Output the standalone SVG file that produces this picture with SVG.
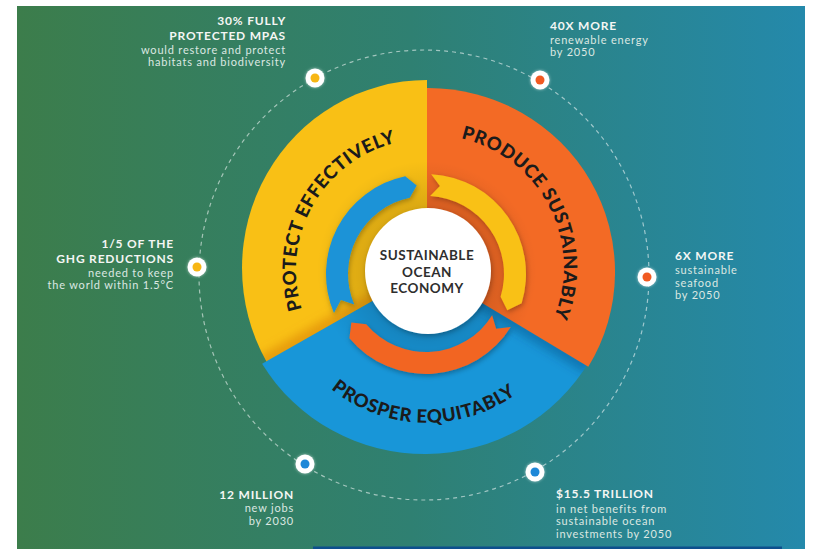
<svg xmlns="http://www.w3.org/2000/svg" width="815" height="549" viewBox="0 0 815 549">
<defs>
<style>
.hd{font-family:Lato,"Liberation Sans",sans-serif;font-weight:700;font-size:12px;fill:#f4f6f4;letter-spacing:0.8px}
.tx{font-family:Lato,"Liberation Sans",sans-serif;font-size:11px;fill:#dce8e2;letter-spacing:0.8px}
.end{text-anchor:end}
.seg{font-family:Lato,"Liberation Sans",sans-serif;font-weight:900;font-size:18.5px;fill:#1b1b1b;letter-spacing:0.7px}
.ctr{font-family:Lato,"Liberation Sans",sans-serif;font-weight:700;font-size:13.5px;fill:#2e2e2e;letter-spacing:0.5px;text-anchor:middle}
.dw{fill:#ffffff}
</style>
<linearGradient id="bg" x1="0" y1="0" x2="1" y2="0">
<stop offset="0" stop-color="#3c7d4b"/>
<stop offset="0.5" stop-color="#2f8072"/>
<stop offset="1" stop-color="#2489ab"/>
</linearGradient>
<radialGradient id="inner" cx="427" cy="271" r="110" gradientUnits="userSpaceOnUse">
<stop offset="0.55" stop-color="#000" stop-opacity="0.13"/>
<stop offset="1" stop-color="#000" stop-opacity="0"/>
</radialGradient>
<filter id="blur5" x="-20%" y="-20%" width="140%" height="140%"><feGaussianBlur stdDeviation="5"/></filter>
<filter id="sh" x="-20%" y="-20%" width="140%" height="140%"><feDropShadow dx="1" dy="2" stdDeviation="2.5" flood-color="#000" flood-opacity="0.28"/></filter>
<filter id="glow" x="-50%" y="-50%" width="200%" height="200%"><feDropShadow dx="0" dy="0" stdDeviation="1.5" flood-color="#fff" flood-opacity="0.6"/></filter>
<path id="pY" d="M427,270 L266.8,362 A185,188 0 0 1 427,80 Z"/>
<path id="pO" d="M427,270 L427,88 A187,184 0 0 1 588.3,366.8 Z"/>
<path id="pB" d="M427,270 L589.5,361 A190,186 0 0 1 262.1,363.8 Z"/>
<clipPath id="cY"><use href="#pY"/></clipPath>
<clipPath id="cO"><use href="#pO"/></clipPath>
<clipPath id="cB"><use href="#pB"/></clipPath>
<path id="tY" d="M352.8,378 A131,131 0 0 1 481.3,150.8"/>
<path id="tO" d="M376.8,147.2 A132,132 0 0 1 498.5,381.1"/>
<path id="tB" d="M274.3,279.3 A153,153 0 0 0 579,287.3"/>
</defs>

<rect x="17" y="6" width="788" height="543" fill="url(#bg)"/>
<rect x="313" y="546.5" width="469" height="2.5" fill="#0d4f8d"/>

<g id="orbit">
<circle cx="424" cy="275" r="225" fill="none" stroke="#ffffff" stroke-opacity="0.55" stroke-width="1.2" stroke-dasharray="4 4"/>
</g>

<g id="segment-protect">
<use href="#pY" fill="#f9c015"/>
<g clip-path="url(#cY)"><line x1="427" y1="270" x2="262" y2="364" stroke="#d07000" stroke-opacity="0.45" stroke-width="16" filter="url(#blur5)"/></g>
</g>
<g id="segment-prosper">
<use href="#pB" fill="#1896d8"/>
<g clip-path="url(#cB)"><line x1="427" y1="270" x2="590" y2="368" stroke="#083a6a" stroke-opacity="0.35" stroke-width="14" filter="url(#blur5)"/></g>
</g>
<g id="segment-produce">
<use href="#pO" fill="#f36a25"/>
<g clip-path="url(#cO)"><line x1="427" y1="80" x2="427" y2="270" stroke="#c8201a" stroke-opacity="0.55" stroke-width="14" filter="url(#blur5)"/></g>
</g>

<circle cx="427" cy="271" r="110" fill="url(#inner)"/>

<g id="connectors">
<path id="arrow-blue" filter="url(#sh)" fill="#1b93d7" d="M333.95,313.07 A100,100 0 0 1 405.21,176.19 L416.7,185.49 L409.78,197.71 A78,78 0 0 0 354.2,304.47 L340.89,300.02 Z"/>
<path id="arrow-yellow" filter="url(#sh)" fill="#f9c118" d="M431.23,174.14 A100,100 0 0 1 521.63,303.24 L507.3,310.2 L500.59,296.81 A78,78 0 0 0 430.08,196.11 L439.92,186.09 Z"/>
<path id="arrow-orange" filter="url(#sh)" fill="#f26524" d="M510.8,326.99 A100,100 0 0 1 349.4,338.28 L351.36,322.47 L366.25,324.14 A78,78 0 0 0 492.14,315.33 L496.13,328.8 Z"/>
</g>

<g id="label-protect"><text class="seg"><textPath href="#tY" startOffset="50%" text-anchor="middle">PROTECT EFFECTIVELY</textPath></text></g>
<g id="label-produce"><text class="seg"><textPath href="#tO" startOffset="50%" text-anchor="middle">PRODUCE SUSTAINABLY</textPath></text></g>
<g id="label-prosper"><text class="seg"><textPath href="#tB" startOffset="50%" text-anchor="middle">PROSPER EQUITABLY</textPath></text></g>

<g id="center">
<circle cx="428" cy="271" r="63" fill="#ffffff" filter="url(#sh)"/>
<text class="ctr" x="427" y="260">SUSTAINABLE</text>
<text class="ctr" x="427" y="276.5">OCEAN</text>
<text class="ctr" x="427" y="293">ECONOMY</text>
</g>

<g id="stat-mpas">
<circle cx="315" cy="78" r="9.5" class="dw" filter="url(#glow)"/><circle cx="315" cy="78" r="4.5" fill="#f7b614"/>
<text class="hd end" x="286" y="25">30% FULLY</text>
<text class="hd end" x="286" y="40">PROTECTED MPAS</text>
<text class="tx end" x="286" y="53.5">would restore and protect</text>
<text class="tx end" x="286" y="66">habitats and biodiversity</text>
</g>

<g id="stat-energy">
<circle cx="540" cy="80" r="9.5" class="dw" filter="url(#glow)"/><circle cx="540" cy="80" r="4.5" fill="#f15a22"/>
<text class="hd" x="550" y="29.5">40X MORE</text>
<text class="tx" x="550" y="43.5">renewable energy</text>
<text class="tx" x="550" y="55.5">by 2050</text>
</g>

<g id="stat-ghg">
<circle cx="197" cy="267" r="9.5" class="dw" filter="url(#glow)"/><circle cx="197" cy="267" r="4.5" fill="#f7b614"/>
<text class="hd end" x="174" y="247.5">1/5 OF THE</text>
<text class="hd end" x="174" y="263">GHG REDUCTIONS</text>
<text class="tx end" x="174" y="276.5">needed to keep</text>
<text class="tx end" x="174" y="289">the world within 1.5°C</text>
</g>

<g id="stat-seafood">
<circle cx="647" cy="277" r="9.5" class="dw" filter="url(#glow)"/><circle cx="647" cy="277" r="4.5" fill="#f15a22"/>
<text class="hd" x="675" y="260">6X MORE</text>
<text class="tx" x="675" y="274">sustainable</text>
<text class="tx" x="675" y="286.5">seafood</text>
<text class="tx" x="675" y="299">by 2050</text>
</g>

<g id="stat-jobs">
<circle cx="305" cy="464" r="9.5" class="dw" filter="url(#glow)"/><circle cx="305" cy="464" r="4.5" fill="#1e88d8"/>
<text class="hd end" x="294" y="498.5">12 MILLION</text>
<text class="tx end" x="294" y="512">new jobs</text>
<text class="tx end" x="294" y="524.5">by 2030</text>
</g>

<g id="stat-benefits">
<circle cx="535" cy="472" r="9.5" class="dw" filter="url(#glow)"/><circle cx="535" cy="472" r="4.5" fill="#1e88d8"/>
<text class="hd" x="556" y="497.5">$15.5 TRILLION</text>
<text class="tx" x="556" y="512.5">in net benefits from</text>
<text class="tx" x="556" y="525">sustainable ocean</text>
<text class="tx" x="556" y="537.5">investments by 2050</text>
</g>
</svg>
